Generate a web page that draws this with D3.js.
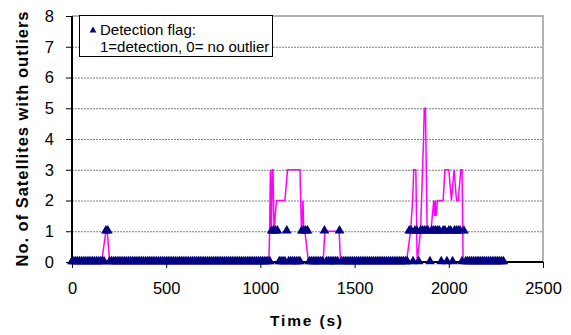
<!DOCTYPE html>
<html><head><meta charset="utf-8">
<script src="https://cdn.jsdelivr.net/npm/d3@7"></script>
<style>
body{margin:0;background:#fff}
svg{display:block}
text{font-family:"Liberation Sans",Arial,sans-serif;fill:#000}
</style>
</head><body>
<svg id="c" width="571" height="335"></svg>
<script>
// ---- data ----
const xTicks = [0, 500, 1000, 1500, 2000, 2500];
const yTicks = [0, 1, 2, 3, 4, 5, 6, 7, 8];
// detection-flag sample epochs (s)
const flagEpochs = d3.range(0, 2300, 10);
// epochs at which the detection flag is 1
const flagOneTimes = [180, 190,
  1060, 1070, 1080, 1090, 1140, 1220, 1230, 1240, 1250, 1340, 1420,
  1790, 1800, 1820, 1830, 1850, 1860, 1870, 1880, 1890,
  1910, 1920, 1930, 1940, 1950, 1970, 1980, 2000, 2010,
  2030, 2040, 2050, 2060, 2080];
// number of satellites with outliers (breakpoints of the magenta trace)
const outlierTimes = [0, 157, 180, 187, 200,
  1045, 1049, 1053, 1058, 1063, 1067, 1072, 1085, 1130, 1144, 1210, 1218, 1226, 1230, 1236, 1255,
  1333, 1342, 1418, 1425,
  1775, 1797, 1808, 1814, 1825, 1832, 1850, 1866, 1870, 1876, 1885, 1905, 1920, 1924, 1928, 1932, 1940,
  1970, 1979, 2000, 2014, 2028, 2041, 2050, 2064, 2070, 2076, 2290];
const outlierCounts = [0, 0, 1, 1, 0,
  0, 1, 3, 1, 3, 3, 1, 2, 2, 3, 3, 1, 2, 1, 1, 0,
  0, 1, 1, 0,
  0, 1, 2, 3, 3, 0, 1, 4, 5, 5, 1, 1, 2, 1.5, 2, 1.5, 2,
  2, 3, 3, 2, 3, 2, 2, 3, 3, 0, 0];
const legendLines = ["Detection flag:", "1=detection, 0= no outlier"];

// ---- chart ----
const svg = d3.select("#c");
const L = 72, R = 543, T = 16, B = 262;
const x = d3.scaleLinear().domain([0, 2500]).range([L, R]);
const y = d3.scaleLinear().domain([0, 8]).range([B, T]);

// gridlines
svg.append("g").selectAll("line").data(yTicks.filter(v => v > 0 && v < 8)).join("line")
  .attr("x1", L).attr("x2", R).attr("y1", d => y(d) + 0.5).attr("y2", d => y(d) + 0.5)
  .attr("stroke", "#808080").attr("stroke-width", 1).attr("stroke-dasharray", "2,1");
// plot border (top & right)
svg.append("path")
  .attr("d", `M${L},${y(8)}H${R}V${B}`)
  .attr("fill", "none").attr("stroke", "#999").attr("stroke-width", 1.5);

// magenta trace
const outlierData = outlierTimes.map((t, i) => ({t, v: outlierCounts[i]}));
svg.append("path").datum(outlierData)
  .attr("d", d3.line().x(d => x(d.t)).y(d => y(d.v)))
  .attr("fill", "none").attr("stroke", "#FF00FF").attr("stroke-width", 1.5);

// axes
const yAxis = svg.append("g").attr("transform", `translate(${L},0)`)
  .call(d3.axisLeft(y).tickValues(yTicks).tickSize(6).tickPadding(12).tickFormat(d3.format("d")));
const xAxis = svg.append("g").attr("transform", `translate(0,${B})`)
  .call(d3.axisBottom(x).tickValues(xTicks).tickSize(6).tickPadding(14).tickFormat(d3.format("d")));
[yAxis, xAxis].forEach(g => {
  g.select(".domain").attr("stroke", "#000").attr("stroke-width", 2);
  g.selectAll(".tick line").attr("stroke", "#000").attr("stroke-width", 1);
  g.selectAll("text").attr("font-size", "16.5px").attr("font-family", '"Liberation Sans",Arial,sans-serif').attr("fill", "#000");
});
yAxis.select(".domain").attr("d", `M0,${B}V${T}`);
xAxis.select(".domain").attr("d", `M${L},0H${R}`);

// flag triangles
const flagData = flagEpochs.map(t => ({t, v: flagOneTimes.includes(t) ? 1 : 0}));
const tri = d3.symbol().type(d3.symbolTriangle).size(42);
svg.append("g").selectAll("path").data(flagData).join("path")
  .attr("transform", d => `translate(${x(d.t)},${y(d.v) - 0.5})`)
  .attr("d", tri).attr("fill", "#000080");

// axis titles
svg.append("text").attr("transform", "translate(28,139) rotate(-90)")
  .attr("text-anchor", "middle").attr("font-weight", "bold").attr("font-size", "16.5px")
  .attr("textLength", 255).attr("lengthAdjust", "spacing")
  .text("No. of Satellites with outliers");
svg.append("text").attr("x", 306).attr("y", 326)
  .attr("text-anchor", "middle").attr("font-weight", "bold").attr("font-size", "15.5px")
  .attr("textLength", 72).attr("lengthAdjust", "spacing")
  .text("Time (s)");

// legend
const lg = svg.append("g");
lg.append("rect").attr("x", 79.5).attr("y", 15.5).attr("width", 193).attr("height", 41)
  .attr("fill", "#fff").attr("stroke", "#000").attr("stroke-width", 1);
lg.append("path").attr("d", d3.symbol().type(d3.symbolTriangle).size(20))
  .attr("transform", "translate(93,30.5)").attr("fill", "#000080");
lg.selectAll("text").data(legendLines).join("text")
  .attr("x", 100).attr("y", (d, i) => 35 + i * 17)
  .attr("font-size", "15px").text(d => d);
</script>
</body></html>
